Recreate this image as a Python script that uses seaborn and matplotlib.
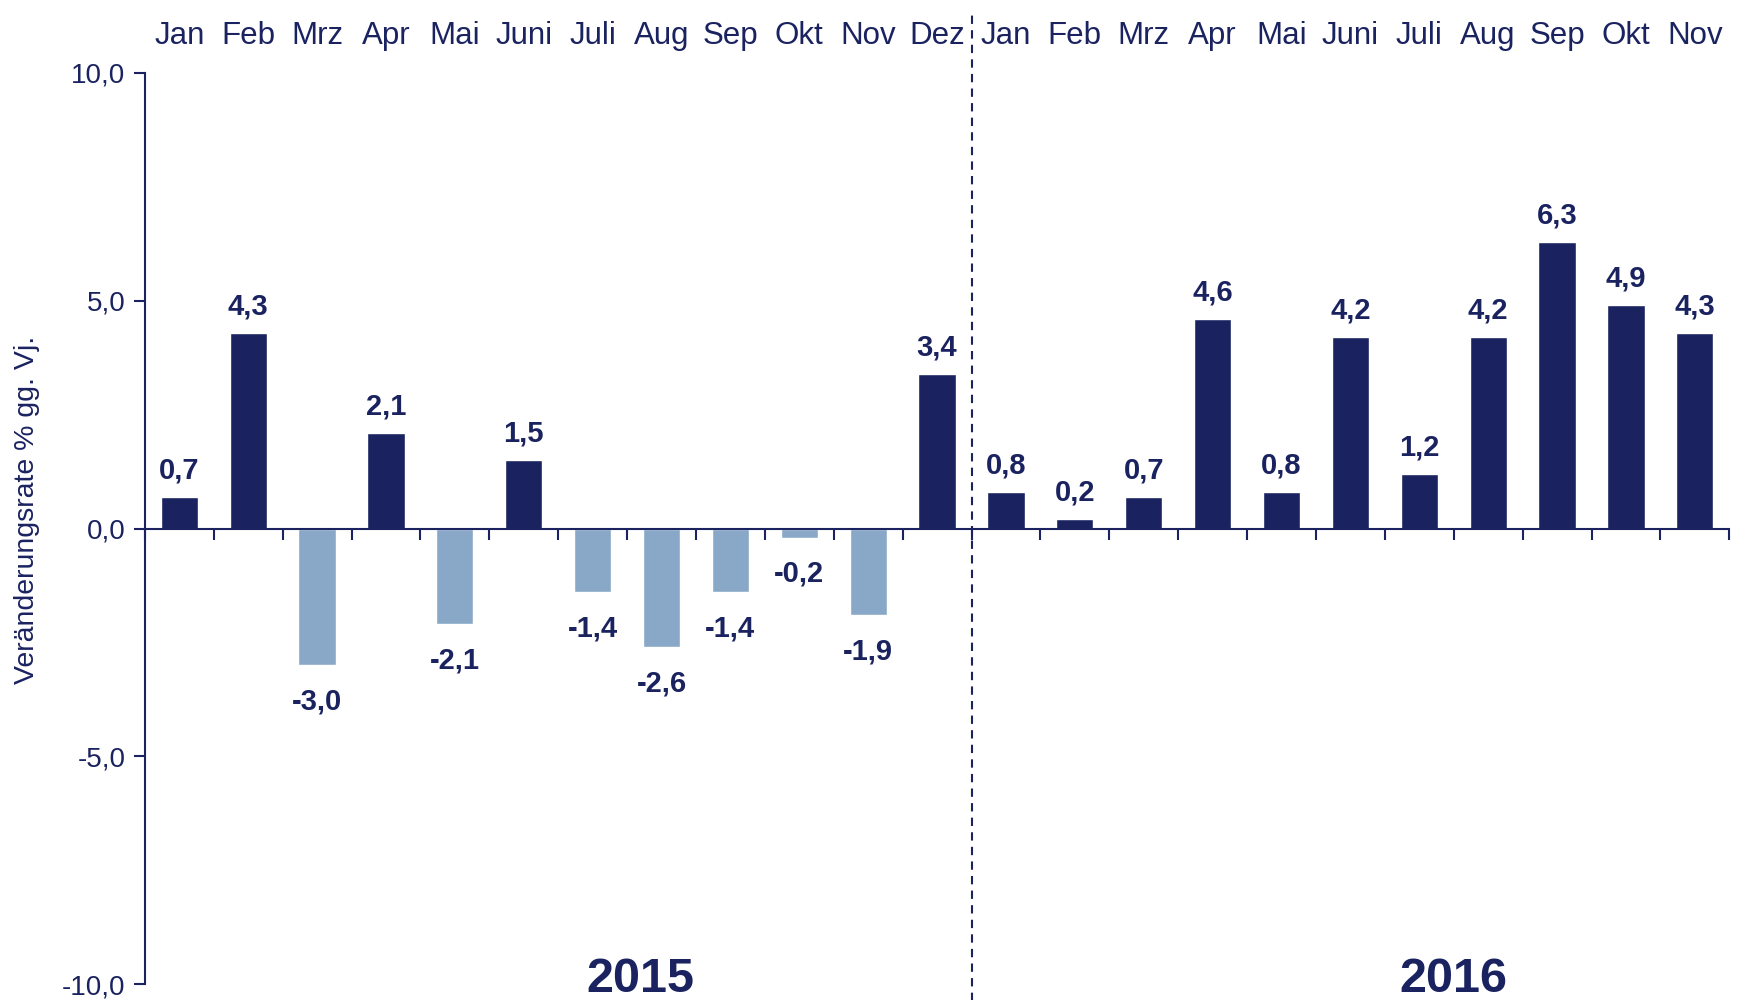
import numpy as np
import pandas as pd
import seaborn as sns
import matplotlib.pyplot as plt

# monthly change rates, % vs previous year
months_2015 = ['Jan', 'Feb', 'Mrz', 'Apr', 'Mai', 'Juni', 'Juli', 'Aug', 'Sep', 'Okt', 'Nov', 'Dez']
values_2015 = [0.7, 4.3, -3.0, 2.1, -2.1, 1.5, -1.4, -2.6, -1.4, -0.2, -1.9, 3.4]
months_2016 = ['Jan', 'Feb', 'Mrz', 'Apr', 'Mai', 'Juni', 'Juli', 'Aug', 'Sep', 'Okt', 'Nov']
values_2016 = [0.8, 0.2, 0.7, 4.6, 0.8, 4.2, 1.2, 4.2, 6.3, 4.9, 4.3]
years = ['2015', '2016']
yticks = [-10, -5, 0, 5, 10]

navy = '#1a2360'
light = '#89a8c8'

df = pd.DataFrame({
    'year': ['2015'] * len(months_2015) + ['2016'] * len(months_2016),
    'month': months_2015 + months_2016,
    'value': values_2015 + values_2016,
})
df['key'] = df['year'] + '-' + df['month']
df['sign'] = np.where(df['value'] < 0, 'neg', 'pos')

sns.set_style('white')
plt.rcParams['font.family'] = ['Liberation Sans', 'DejaVu Sans']

fig = plt.figure(figsize=(17.45, 10), dpi=100)
ax = fig.add_axes([0.083, 0.016, 0.908, 0.911])

sns.barplot(data=df, x='key', y='value', hue='sign', order=list(df['key']),
            palette={'pos': navy, 'neg': light}, dodge=False, width=0.54,
            legend=False, saturation=1, ax=ax)

for c in ax.containers:
    vals = c.datavalues
    labs = [f'{v:.1f}'.replace('.', ',') if not np.isnan(v) else '' for v in vals]
    pad = 16 if np.nanmin(vals) < 0 else 9
    ax.bar_label(c, labels=labs, padding=pad, fontsize=21, fontweight='bold', color=navy)

n = len(df)
ax.set_xlim(-0.5, n - 0.5)
ax.set_ylim(-10, 10)
ax.set_yticks(yticks)
ax.set_yticklabels([f'{t:.1f}'.replace('.', ',') for t in yticks], fontsize=20, color=navy)
ax.set_ylabel('Veränderungsrate % gg. Vj.', fontsize=20.5, color=navy)
ax.yaxis.set_label_coords(-0.066, 0.52)

# zero line with ticks between months
for s in ['top', 'right']:
    ax.spines[s].set_visible(False)
ax.spines['bottom'].set_position(('data', 0))
ax.spines['bottom'].set_color(navy)
ax.spines['bottom'].set_linewidth(1.5)
ax.spines['left'].set_color(navy)
ax.spines['left'].set_linewidth(1.5)
ax.set_xticks(np.arange(-0.5, n, 1))
ax.set_xticklabels([])
ax.set_xlabel('')
ax.tick_params(axis='x', bottom=True, direction='out', length=8, width=1.5, color=navy)
ax.tick_params(axis='y', left=True, direction='out', length=8, width=1.5, color=navy, pad=6)

# month names on top
top = ax.secondary_xaxis('top')
top.set_xticks(np.arange(n))
top.set_xticklabels(df['month'], fontsize=22.5, color=navy)
top.tick_params(top=False, length=0, pad=16)
top.spines['top'].set_visible(False)

# year separator
ax.axvline(len(months_2015) - 0.5, ymin=-0.02, ymax=1.065, clip_on=False,
           color=navy, lw=1.5, ls=(0, (4, 3)))

# year labels
centers = [6.7, 18.5]
for xc, yr in zip(centers, years):
    ax.text(xc, -0.02, yr, transform=ax.get_xaxis_transform(), ha='center', va='bottom',
            fontsize=35, fontweight='bold', color=navy)

fig.savefig('out.png', dpi=100, facecolor='white')
